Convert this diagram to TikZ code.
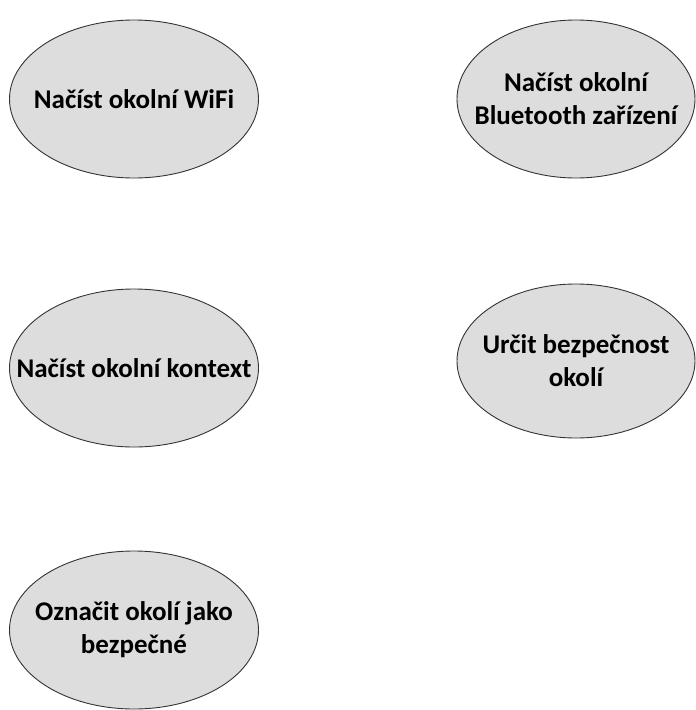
\documentclass[tikz,border=0pt]{standalone}
\usepackage{fontspec}
\setmainfont{Carlito}
\usepackage{tikz}
\usetikzlibrary{shapes.geometric}

\begin{document}
\begin{tikzpicture}[x=1pt,y=-1pt]
        \tikzset{usecase/.style={ellipse, draw=black!80, fill=gray!27, line width=0.9pt,
            minimum width=249pt, minimum height=158pt, inner xsep=-50pt, inner ysep=0pt,
            align=center, font=\bfseries\fontsize{27}{33}\selectfont}}
        \useasboundingbox (0,0) rectangle (696,710);

        \node[usecase] (wifi) at (134,99) {Načíst okolní WiFi};
        \node[usecase, minimum width=238pt] (bluetooth) at (576,99) {Načíst okolní\\Bluetooth zařízení};

        \node[usecase] (context) at (134,368) {Načíst okolní kontext};
        \node[usecase, minimum width=238pt, minimum height=154pt] (safety) at (576,361) {Určit bezpečnost\\okolí};

        \node[usecase] (mark) at (134,630) {Označit okolí jako\\bezpečné};
    \end{tikzpicture}
\end{document}
